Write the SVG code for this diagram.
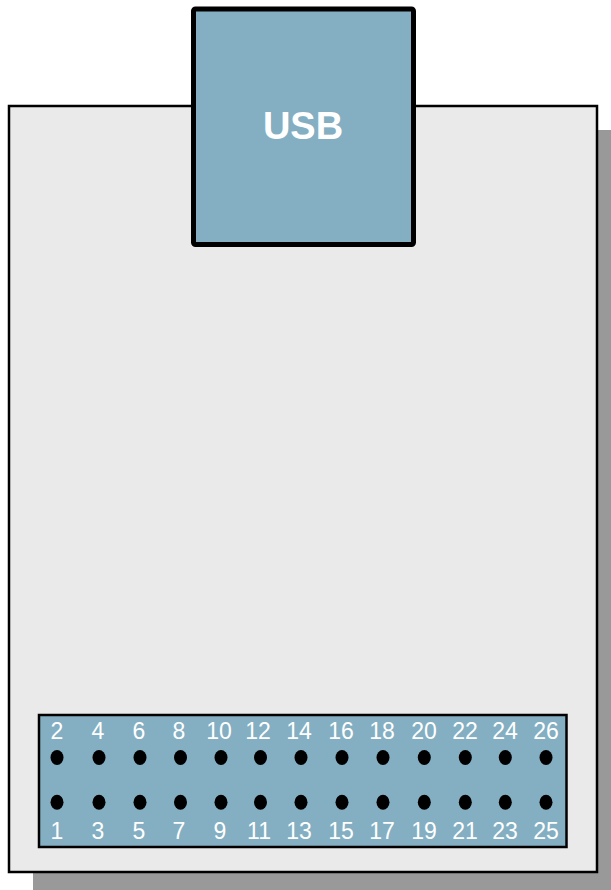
<svg xmlns="http://www.w3.org/2000/svg" width="611" height="890" viewBox="0 0 611 890">
<style>
.num{font-family:"Liberation Sans",Arial,sans-serif;font-size:23px;fill:#ffffff;text-anchor:middle}
.pin{fill:#000000}
</style>
<rect width="611" height="890" fill="#ffffff"/>
<g id="board">
<rect x="33" y="130" width="590" height="770" fill="#999999"/>
<rect x="9" y="106" width="588" height="766" fill="#eaeaea" stroke="#000" stroke-width="2.5"/>
</g>
<g id="usb">
<rect x="193.5" y="9" width="220" height="235.5" rx="2" fill="#84afc2" stroke="#000" stroke-width="5"/>
<text x="303" y="138.5" font-family="'Liberation Sans',Arial,sans-serif" font-weight="bold" font-size="38" fill="#fff" text-anchor="middle">USB</text>
</g>
<g id="header">
<rect x="39" y="715" width="527.5" height="132" fill="#84afc2" stroke="#000" stroke-width="2.5"/>
<g class="num">
<text x="57" y="738.5">2</text><text x="98" y="738.5">4</text><text x="139" y="738.5">6</text><text x="179" y="738.5">8</text><text x="219" y="738.5">10</text><text x="258" y="738.5">12</text><text x="299" y="738.5">14</text><text x="341" y="738.5">16</text><text x="382" y="738.5">18</text><text x="424" y="738.5">20</text><text x="465" y="738.5">22</text><text x="505" y="738.5">24</text><text x="546" y="738.5">26</text>
<text x="57" y="838.5">1</text><text x="98" y="838.5">3</text><text x="139" y="838.5">5</text><text x="179" y="838.5">7</text><text x="220" y="838.5">9</text><text x="259" y="838.5">11</text><text x="299" y="838.5">13</text><text x="341" y="838.5">15</text><text x="382" y="838.5">17</text><text x="424" y="838.5">19</text><text x="465" y="838.5">21</text><text x="505" y="838.5">23</text><text x="546" y="838.5">25</text>
</g>
<g class="pin">
<ellipse cx="57" cy="757.5" rx="6.5" ry="7.5"/><ellipse cx="99" cy="757.5" rx="6.5" ry="7.5"/><ellipse cx="140" cy="757.5" rx="6.5" ry="7.5"/><ellipse cx="180.5" cy="757.5" rx="6.5" ry="7.5"/><ellipse cx="221" cy="757.5" rx="6.5" ry="7.5"/><ellipse cx="260.5" cy="757.5" rx="6.5" ry="7.5"/><ellipse cx="301" cy="757.5" rx="6.5" ry="7.5"/><ellipse cx="342" cy="757.5" rx="6.5" ry="7.5"/><ellipse cx="383" cy="757.5" rx="6.5" ry="7.5"/><ellipse cx="424.3" cy="757.5" rx="6.5" ry="7.5"/><ellipse cx="465.3" cy="757.5" rx="6.5" ry="7.5"/><ellipse cx="505.3" cy="757.5" rx="6.5" ry="7.5"/><ellipse cx="546" cy="757.5" rx="6.5" ry="7.5"/>
<ellipse cx="57" cy="802.3" rx="6.5" ry="7.5"/><ellipse cx="99" cy="802.3" rx="6.5" ry="7.5"/><ellipse cx="140" cy="802.3" rx="6.5" ry="7.5"/><ellipse cx="180.5" cy="802.3" rx="6.5" ry="7.5"/><ellipse cx="221" cy="802.3" rx="6.5" ry="7.5"/><ellipse cx="260.5" cy="802.3" rx="6.5" ry="7.5"/><ellipse cx="301" cy="802.3" rx="6.5" ry="7.5"/><ellipse cx="342" cy="802.3" rx="6.5" ry="7.5"/><ellipse cx="383" cy="802.3" rx="6.5" ry="7.5"/><ellipse cx="424.3" cy="802.3" rx="6.5" ry="7.5"/><ellipse cx="465.3" cy="802.3" rx="6.5" ry="7.5"/><ellipse cx="505.3" cy="802.3" rx="6.5" ry="7.5"/><ellipse cx="546" cy="802.3" rx="6.5" ry="7.5"/>
</g>
</g>
</svg>
